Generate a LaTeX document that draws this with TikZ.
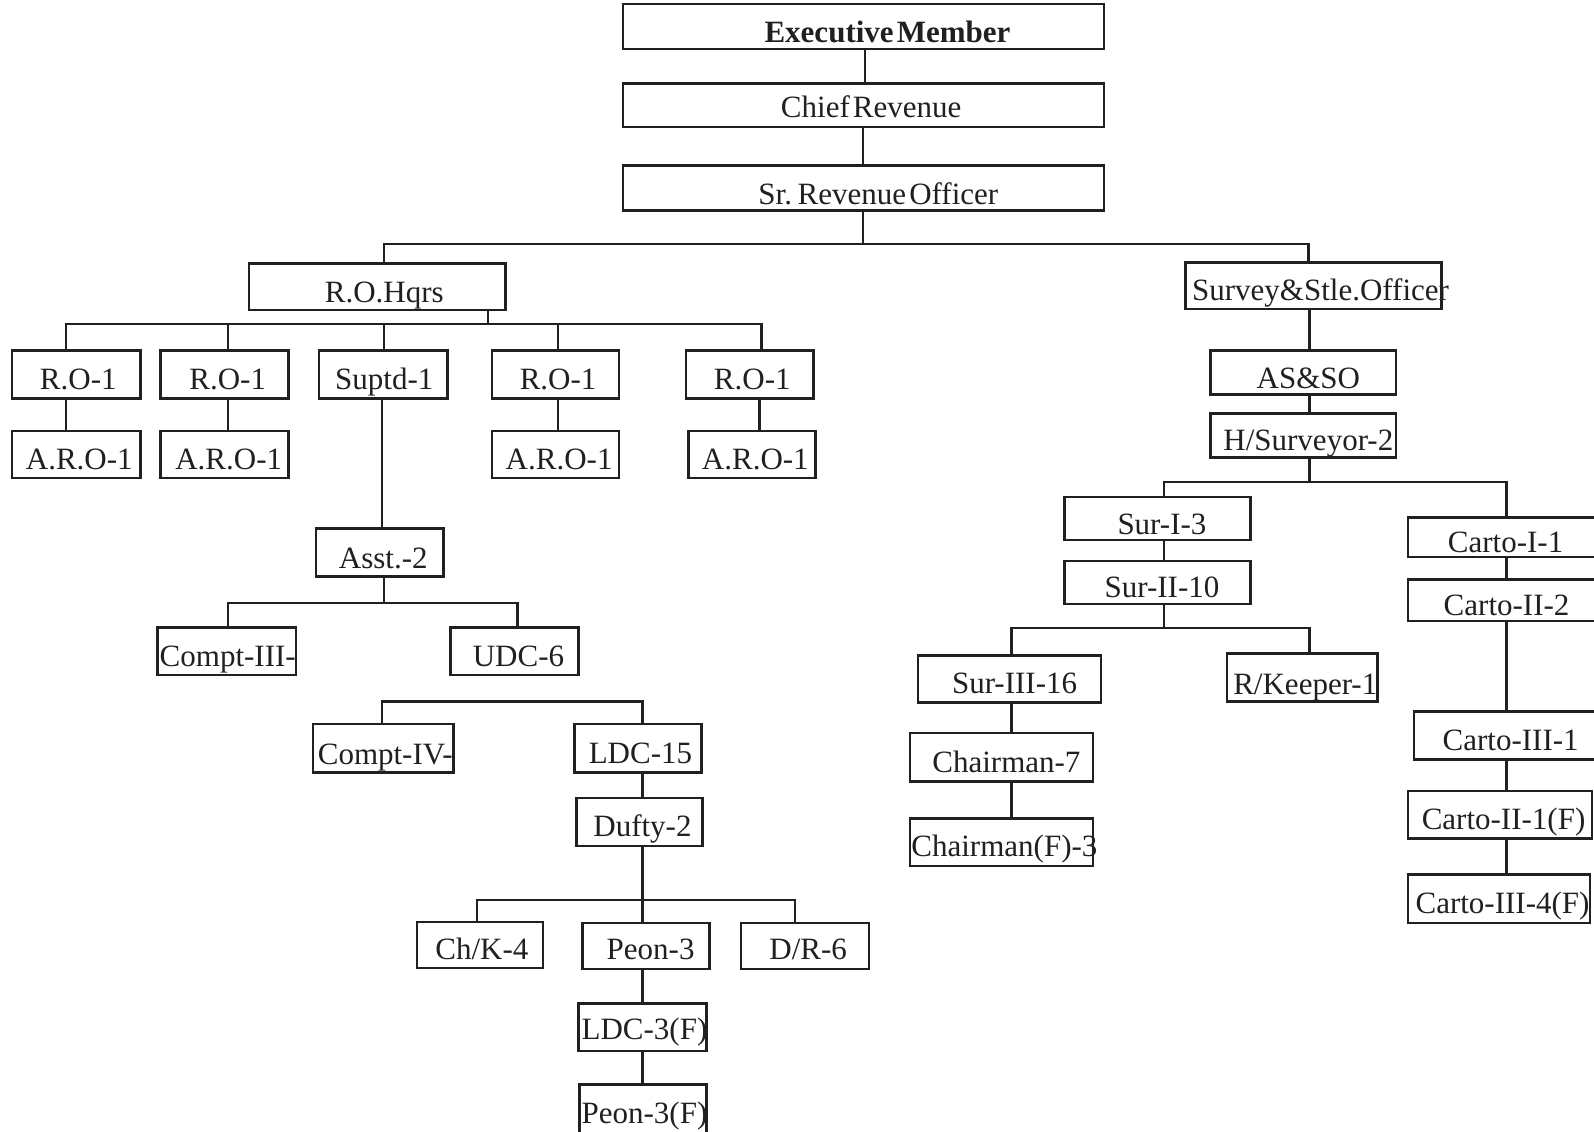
\documentclass[tikz,border=0pt]{standalone}
\usepackage{fontspec}
\setmainfont{Liberation Serif}[WordSpace=0.4]
\definecolor{ink}{RGB}{35,31,32}
\tikzset{
  orgbox/.style={draw=ink, line width=2.5pt, inner sep=0pt, outer sep=0pt, fill=white},
  orgtext/.style={anchor=base, inner sep=0pt, text=ink, font=\fontsize{30.5}{36}\selectfont},
  link/.style={draw=ink, line width=2.3pt},
}
% \orgbox{name}{left}{top}{right}{bottom}{text x}{baseline y}{text}
\newcommand\orgbox[8]{%
  \node[orgbox, minimum width={#4-#2}, minimum height={#5-#3}] (#1) at ({(#2+#4)/2},{(#3+#5)/2}) {};
  \node[orgtext] (#1-t) at (#6,#7) {#8};}
\begin{document}
\begin{tikzpicture}[x=1pt, y=-1pt]
\useasboundingbox (0,0) rectangle (1568,1113);
\clip (0,0) rectangle (1568,1113);
\fill[white] (0,0) rectangle (1568,1113);

% top of the chain
\orgbox{exec}{613}{4}{1086}{48}{873}{42}{\textbf{Executive Member}}
\orgbox{chief}{613}{82}{1086}{125}{857}{116}{Chief Revenue}
\orgbox{srro}{613}{163}{1086}{207}{864}{201}{Sr. Revenue Officer}
\orgbox{rohq}{245}{259}{497}{305}{378}{298}{R.O.Hqrs}
\orgbox{survey}{1166}{258}{1418}{304}{1299}{296}{Survey\&Stle.Officer}

% revenue officers
\orgbox{roA}{12}{345}{138}{392}{77}{383}{R.O-1}
\orgbox{roB}{158}{345}{284}{392}{224}{383}{R.O-1}
\orgbox{suptd}{314}{345}{440}{392}{378}{383}{Suptd-1}
\orgbox{roC}{484}{345}{609}{392}{549}{383}{R.O-1}
\orgbox{roD}{675}{345}{800}{392}{740}{383}{R.O-1}
\orgbox{aroA}{12}{424}{138}{470}{78}{462}{A.R.O-1}
\orgbox{aroB}{158}{424}{284}{470}{225}{462}{A.R.O-1}
\orgbox{aroC}{484}{424}{609}{470}{550}{462}{A.R.O-1}
\orgbox{aroD}{677}{424}{802}{470}{743}{462}{A.R.O-1}

% office staff
\orgbox{asst}{311}{520}{436}{567}{377}{559}{Asst.-2}
\orgbox{comptIII}{155}{617}{291}{664}{224}{656}{Compt-III-}
\orgbox{udc}{443}{617}{569}{664}{510}{656}{UDC-6}
\orgbox{comptIV}{308}{712}{446}{760}{379}{752}{Compt-IV-}
\orgbox{ldcA}{565}{712}{690}{760}{630}{751}{LDC-15}
\orgbox{dufty}{567}{785}{691}{832}{632}{823}{Dufty-2}
\orgbox{chk}{410}{907}{534}{952}{474}{944}{Ch/K-4}
\orgbox{peon}{573}{908}{698}{953}{640}{944}{Peon-3}
\orgbox{dr}{729}{908}{855}{953}{795}{944}{D/R-6}
\orgbox{ldcF}{569}{987}{695}{1034}{634}{1023}{LDC-3(F)}
\orgbox{peonF}{570}{1067}{695}{1116}{634}{1105}{Peon-3(F)}

% survey wing
\orgbox{asso}{1191}{345}{1373}{388}{1287}{382}{AS\&SO}
\orgbox{hsurv}{1191}{407}{1373}{450}{1287}{443}{H/Surveyor-2}
\orgbox{surI}{1047}{489}{1230}{531}{1143}{526}{Sur-I-3}
\orgbox{surII}{1047}{552}{1230}{594}{1143}{588}{Sur-II-10}
\orgbox{cartoI}{1385}{509}{1579}{548}{1481}{543}{Carto-I-1}
\orgbox{cartoII}{1385}{570}{1579}{611}{1482}{605}{Carto-II-2}
\orgbox{surIII}{903}{645}{1083}{691}{998}{682}{Sur-III-16}
\orgbox{rkeep}{1207}{643}{1355}{690}{1284}{683}{R/Keeper-1}
\orgbox{chairA}{895}{721}{1075}{769}{990}{760}{Chairman-7}
\orgbox{chairF}{895}{805}{1075}{852}{988}{843}{Chairman(F)-3}
\orgbox{cartoIII}{1391}{700}{1573}{747}{1486}{738}{Carto-III-1}
\orgbox{cartoIIF}{1385}{778}{1566}{825}{1479}{816}{Carto-II-1(F)}
\orgbox{cartoIIIF}{1385}{860}{1564}{908}{1478}{899}{Carto-III-4(F)}

% connectors: head office
\draw[link] (exec.south -| 851,0) -- (chief.north -| 851,0);
\draw[link] (chief.south -| 849,0) -- (srro.north -| 849,0);
\coordinate (srbus) at (849,240);
\draw[link] (srro.south -| srbus) -- (srbus);
\draw[link] (srbus) -| (rohq.north -| 378,0);
\draw[link] (srbus) -| (survey.north -| 1287,0);

% connectors: R.O. headquarters
\coordinate (hqbus) at (480,319);
\draw[link] (rohq.south -| hqbus) -- (hqbus);
\foreach \n/\x in {roA/65, roB/224, suptd/378, roC/549, roD/749}
  \draw[link] (hqbus) -| (\n.north -| \x,0);
\foreach \a/\b/\x in {roA/aroA/65, roB/aroB/224, roC/aroC/549, roD/aroD/747}
  \draw[link] (\a.south -| \x,0) -- (\b.north -| \x,0);
\draw[link] (suptd.south -| 376,0) -- (asst.north -| 376,0);
\coordinate (asbus) at (378,593);
\draw[link] (asst.south -| asbus) -- (asbus);
\draw[link] (asbus) -| (comptIII.north -| 224,0);
\draw[link] (asbus) -| (udc.north -| 509,0);
\coordinate (lbusL) at (376,690);
\coordinate (lbusR) at (632,690);
\draw[link] (comptIV.north -| lbusL) -- (lbusL) -- (lbusR) -- (ldcA.north -| lbusR);
\draw[link] (ldcA.south -| 632,0) -- (dufty.north -| 632,0);
\coordinate (dbus) at (632,885);
\draw[link] (dufty.south -| dbus) -- (dbus);
\foreach \n/\x in {chk/469, peon/632, dr/782}
  \draw[link] (dbus) -| (\n.north -| \x,0);
\draw[link] (peon.south -| 632,0) -- (ldcF.north -| 632,0);
\draw[link] (ldcF.south -| 632,0) -- (peonF.north -| 632,0);

% connectors: survey wing
\draw[link] (survey.south -| 1288,0) -- (asso.north -| 1288,0);
\draw[link] (asso.south -| 1288,0) -- (hsurv.north -| 1288,0);
\coordinate (hbus) at (1288,474);
\draw[link] (hsurv.south -| hbus) -- (hbus);
\draw[link] (hbus) -| (surI.north -| 1145,0);
\draw[link] (hbus) -| (cartoI.north -| 1482,0);
\draw[link] (surI.south -| 1145,0) -- (surII.north -| 1145,0);
\coordinate (sbus) at (1145,618);
\draw[link] (surII.south -| sbus) -- (sbus);
\draw[link] (sbus) -| (surIII.north -| 995,0);
\draw[link] (sbus) -| (rkeep.north -| 1288,0);
\draw[link] (surIII.south -| 995,0) -- (chairA.north -| 995,0);
\draw[link] (chairA.south -| 995,0) -- (chairF.north -| 995,0);
\foreach \a/\b in {cartoI/cartoII, cartoII/cartoIII, cartoIII/cartoIIF, cartoIIF/cartoIIIF}
  \draw[link] (\a.south -| 1482,0) -- (\b.north -| 1482,0);
\end{tikzpicture}
\end{document}
